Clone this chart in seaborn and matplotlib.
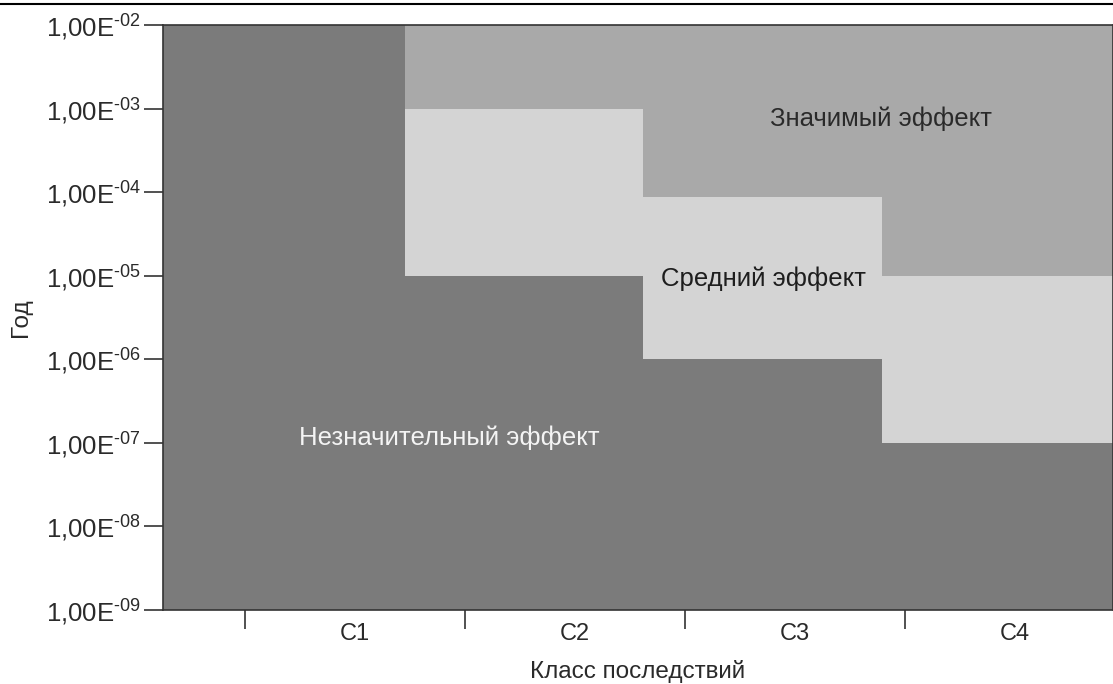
import matplotlib
matplotlib.use('Agg')
import matplotlib.pyplot as plt
from matplotlib.lines import Line2D
from matplotlib.ticker import FixedLocator, FuncFormatter
import seaborn as sns
import numpy as np

# --- data ---
classes = ['C1', 'C2', 'C3', 'C4']
class_ticks = [0, 1, 2, 3]                      # boundaries between classes
class_centers = [0.5, 1.5, 2.5, 3.5]
step_edges = [-0.373, 0.727, 1.809, 2.895, 3.945]   # where the zones change
medium_top = [1e-2, 1e-3, 8.8e-5, 1e-5, 1e-5]       # start of "significant"
medium_bottom = [1e-2, 1e-5, 1e-6, 1e-7, 1e-7]      # end of "insignificant"
y_decades = [-9, -8, -7, -6, -5, -4, -3, -2]

zone_labels = ['Значимый эффект', 'Средний эффект', 'Незначительный эффект']
zone_label_x = [2.89, 2.355, 0.93]
zone_label_y = [7.6e-4, 9.3e-6, 1.15e-7]

sns.set_theme(style='ticks')
plt.rcParams['font.family'] = ['Liberation Sans', 'DejaVu Sans']
plt.rcParams['mathtext.default'] = 'regular'

fig = plt.figure(figsize=(11.13, 6.84), dpi=100)
ax = fig.add_axes([163 / 1113, 1 - 610 / 684, 1 - 163 / 1113, (610 - 25) / 684])

dark, sig, med = '#7b7b7b', '#a9a9a9', '#d4d4d4'
ax.set_facecolor(dark)
ax.fill_between(step_edges, medium_top, 1e-2, step='post', color=sig, lw=0)
ax.fill_between(step_edges, medium_bottom, medium_top, step='post', color=med, lw=0)

ax.set_yscale('log')
ax.set_ylim(1e-9, 1e-2)
ax.set_xlim(step_edges[0], step_edges[-1])

ax.yaxis.set_major_locator(FixedLocator([10.0 ** d for d in y_decades]))
ax.yaxis.set_minor_locator(FixedLocator([]))
ax.yaxis.set_major_formatter(FuncFormatter(
    lambda v, p: '1,00E$^{\u2010%02d}$' % round(-np.log10(v))))

ax.xaxis.set_major_locator(FixedLocator(class_ticks))
ax.xaxis.set_major_formatter(FuncFormatter(lambda v, p: ''))
ax.xaxis.set_minor_locator(FixedLocator(class_centers))
ax.xaxis.set_minor_formatter(FuncFormatter(lambda v, p: classes[p]))

txt = '#2a2a2a'
ax.tick_params(axis='y', which='major', length=14, width=1.2, color='#333333',
               labelsize=18.5, labelcolor=txt, pad=2)
ax.tick_params(axis='x', which='major', length=14, width=1.2, color='#333333')
ax.tick_params(axis='x', which='minor', length=0, labelsize=17,
               labelcolor=txt, pad=9)

for s in ax.spines.values():
    s.set_color('#333333')
    s.set_linewidth(1.2)

ax.set_xlabel('Класс последствий', fontsize=17.5, color=txt, labelpad=11)
ax.set_ylabel('Год', fontsize=17.5, color=txt, labelpad=10)

colors = ['#2a2a2a', '#1e1e1e', '#f4f4f4']
for lab, x, y, c in zip(zone_labels, zone_label_x, zone_label_y, colors):
    ax.text(x, y, lab, ha='center', va='center', fontsize=18.5, color=c)

# thin frame line at the top of the image
fig.add_artist(Line2D([0, 1], [1 - 4 / 684] * 2, transform=fig.transFigure,
                      color='black', lw=1.5))

fig.savefig('out.png', dpi=100)
